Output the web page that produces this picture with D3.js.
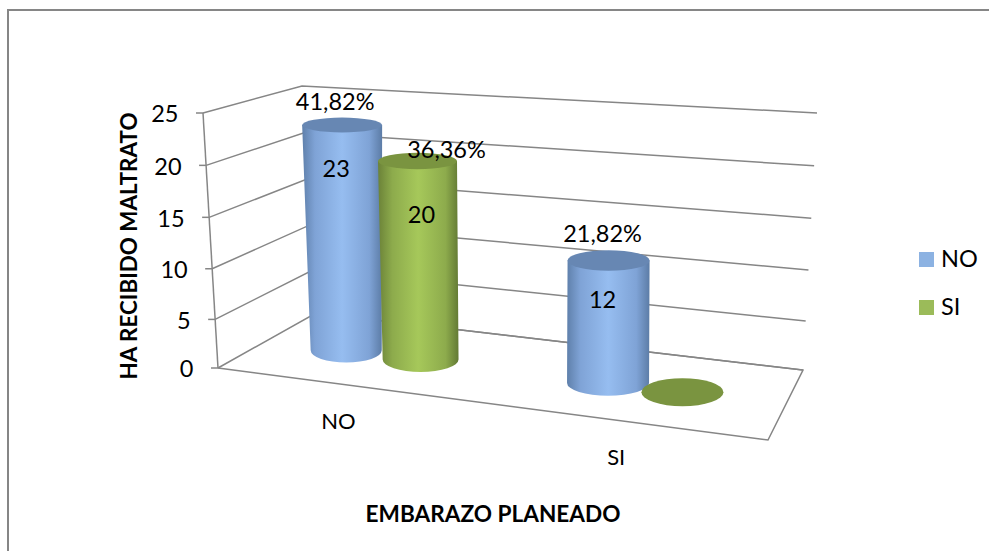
<!DOCTYPE html>
<html>
<head>
<meta charset="utf-8">
<script src="https://cdn.jsdelivr.net/npm/d3@7"></script>
<style>
  html, body { margin: 0; padding: 0; background: #fff; }
  svg { display: block; }
  text { font-family: Lato, "Noto Sans", sans-serif; fill: #000; }
</style>
</head>
<body>
<svg id="chart" width="989" height="551"></svg>
<script>
const categories = ["NO", "SI"];
const seriesNames = ["NO", "SI"];
const valuesNo = [23, 12];
const valuesSi = [20, 0];
const percentNo = ["41,82%", "21,82%"];
const percentSi = ["36,36%", ""];
const yTicks = [0, 5, 10, 15, 20, 25];

const svg = d3.select("#chart");
const fontSize = 23.5;
const gridColor = "#868686";

// frame of the chart area, it runs off the right and bottom of the picture
svg.append("path")
  .attr("d", "M8,551V10H989")
  .attr("fill", "none")
  .attr("stroke", gridColor)
  .attr("stroke-width", 2);

// corners of the 3d box: floor and ceiling
const floorBox = { fl: [218, 368], fr: [768, 440], bl: [316, 313], br: [803, 370] };
const ceilBox = { fl: [203, 113], fr: [793, 155], bl: [302, 86], br: [817, 113] };

// small exponent stands in for the foreshortening of the height axis
const yScale = d3.scalePow().exponent(1.03).domain([0, 25]).range([0, 1]);
const xCat = d3.scaleBand().domain(categories).range([-0.028, 0.982]);
const xSeries = d3.scaleBand().domain(seriesNames).range([0, xCat.bandwidth()]).paddingOuter(0.76);

function corner(box, u, d) {
  return [0, 1].map(i =>
    box.fl[i] * (1 - u) * (1 - d) + box.fr[i] * u * (1 - d) +
    box.bl[i] * (1 - u) * d + box.br[i] * u * d);
}
// u along the category axis, d in depth, t in height (all 0..1)
function project(u, d, t) {
  const a = corner(floorBox, u, d), b = corner(ceilBox, u, d);
  return [a[0] + (b[0] - a[0]) * t, a[1] + (b[1] - a[1]) * t];
}

// walls
const wall = svg.append("g").attr("fill", "none").attr("stroke", gridColor).attr("stroke-width", 1.5);
const line = d3.line();
yTicks.forEach(v => {
  const t = yScale(v);
  wall.append("path").attr("d", line([project(0, 0, t), project(0, 1, t), project(1, 1, t)]));
  const p = project(0, 0, t);
  wall.append("path").attr("d", line([[p[0] - 7, p[1]], p]));
});
wall.append("path").attr("d", line([project(0, 0, 0), project(0, 0, 1)]));
wall.append("path").attr("d", line([project(0, 1, 0), project(1, 1, 0), project(1, 0, 0), project(0, 0, 0)]));

// tick labels
svg.append("g").selectAll("text").data(yTicks).join("text")
  .attr("x", d => project(0, 0, yScale(d))[0] - 24.5)
  .attr("y", d => project(0, 0, yScale(d))[1] + 3.5)
  .attr("text-anchor", "end")
  .attr("dominant-baseline", "middle")
  .style("font-size", fontSize + "px")
  .text(d => d);

// shading for the cylinders
const defs = svg.append("defs");
function addGradient(id, stops) {
  const g = defs.append("linearGradient").attr("id", id);
  stops.forEach(s => g.append("stop").attr("offset", s[0]).attr("stop-color", s[1]));
}
addGradient("side-NO", [[0, "#5f80ab"], [0.16, "#7fa3d6"], [0.5, "#96bdf0"], [0.84, "#7fa3d6"], [1, "#5c7ca6"]]);
addGradient("side-SI", [[0, "#6b8238"], [0.18, "#8dab4c"], [0.5, "#a6c85a"], [0.84, "#8dab4c"], [1, "#637a34"]]);
const topColor = { NO: "#6787b3", SI: "#7a9440" };
const legendColor = { NO: "#8cb2e2", SI: "#9bbb59" };

const rxBottom = d3.scaleLinear().domain([0.15, 0.3, 0.65]).range([35.5, 38, 41]).clamp(true);
const rxTop = d3.scaleLinear().domain([0.15, 0.3, 0.65]).range([40, 39.5, 41]).clamp(true);
const ryAt = d3.scaleLinear().domain([120, 390]).range([7.3, 13]);
// cylinders lean a little less than the walls do
const leanAt = d3.scaleLinear().domain([0.15, 0.3, 0.65]).range([-4, -3.5, 1]).clamp(true);

// data labels were moved by hand in the original, so they need their own nudges
const percentNudge = { "NO-NO": [-7, -21], "NO-SI": [29, -9], "SI-NO": [-6, -24] };
const countNudge = { "NO-NO": [-6, 46], "NO-SI": [4, 56], "SI-NO": [-6, 42] };

const cylinders = [];
categories.forEach((c, i) => {
  cylinders.push({ cat: c, series: "NO", value: valuesNo[i], percent: percentNo[i] });
  cylinders.push({ cat: c, series: "SI", value: valuesSi[i], percent: percentSi[i] });
});

const bars = svg.append("g");
const labels = [];
cylinders.forEach(d => {
  const u = xCat(d.cat) + xSeries(d.series) + xSeries.bandwidth() / 2;
  const b = project(u, 0.5, 0);
  const t = [b[0] + leanAt(u) * yScale(d.value) / 0.9, project(u, 0.5, yScale(d.value))[1]];
  const rb = rxBottom(u), rt = rxTop(u);
  const ryB = ryAt(b[1]), ryT = ryAt(t[1]);
  if (d.value === 0) {
    bars.append("ellipse")
      .attr("cx", b[0]).attr("cy", b[1]).attr("rx", rb).attr("ry", ryB + 1)
      .attr("fill", topColor[d.series]);
    return;
  }
  bars.append("path")
    .attr("d", `M${t[0] - rt},${t[1]}L${b[0] - rb},${b[1]}` +
      `A${rb},${ryB} 0 0 0 ${b[0] + rb},${b[1]}L${t[0] + rt},${t[1]}Z`)
    .attr("fill", `url(#side-${d.series})`);
  bars.append("ellipse")
    .attr("cx", t[0]).attr("cy", t[1]).attr("rx", rt).attr("ry", ryT)
    .attr("fill", topColor[d.series]);
  const key = d.cat + "-" + d.series;
  labels.push({ x: t[0] + percentNudge[key][0], y: t[1] + percentNudge[key][1], text: d.percent });
  labels.push({ x: t[0] + countNudge[key][0], y: t[1] + countNudge[key][1], text: d.value });
});

svg.append("g").selectAll("text").data(labels).join("text")
  .attr("x", d => d.x)
  .attr("y", d => d.y)
  .attr("text-anchor", "middle")
  .attr("dominant-baseline", "middle")
  .style("font-size", fontSize + "px")
  .text(d => d.text);

// category labels sit below the front floor edge
svg.append("g").selectAll("text").data(categories).join("text")
  .attr("x", d => project(xCat(d) + xCat.bandwidth() / 2, 0, 0)[0] - 3)
  .attr("y", d => project(xCat(d) + xCat.bandwidth() / 2, 0, 0)[1] + 39)
  .attr("text-anchor", "middle")
  .attr("dominant-baseline", "middle")
  .style("font-size", "22px")
  .text(d => d);

// legend
const legend = svg.append("g");
seriesNames.forEach((s, i) => {
  const y = 252 + i * 48;
  legend.append("rect").attr("x", 919).attr("y", y).attr("width", 15).attr("height", 15).attr("fill", legendColor[s]);
  legend.append("text").attr("x", 941).attr("y", y + 9)
    .attr("dominant-baseline", "middle")
    .style("font-size", fontSize + "px")
    .text(s);
});

// axis titles
svg.append("text")
  .attr("transform", "translate(131,246) rotate(-90)")
  .attr("text-anchor", "middle")
  .attr("dominant-baseline", "middle")
  .style("font-size", "22.4px")
  .style("font-weight", "bold")
  .text("HA RECIBIDO MALTRATO");
svg.append("text")
  .attr("x", 493).attr("y", 516)
  .attr("text-anchor", "middle")
  .attr("dominant-baseline", "middle")
  .style("font-size", "22.6px")
  .style("font-weight", "bold")
  .text("EMBARAZO PLANEADO");
</script>
</body>
</html>
